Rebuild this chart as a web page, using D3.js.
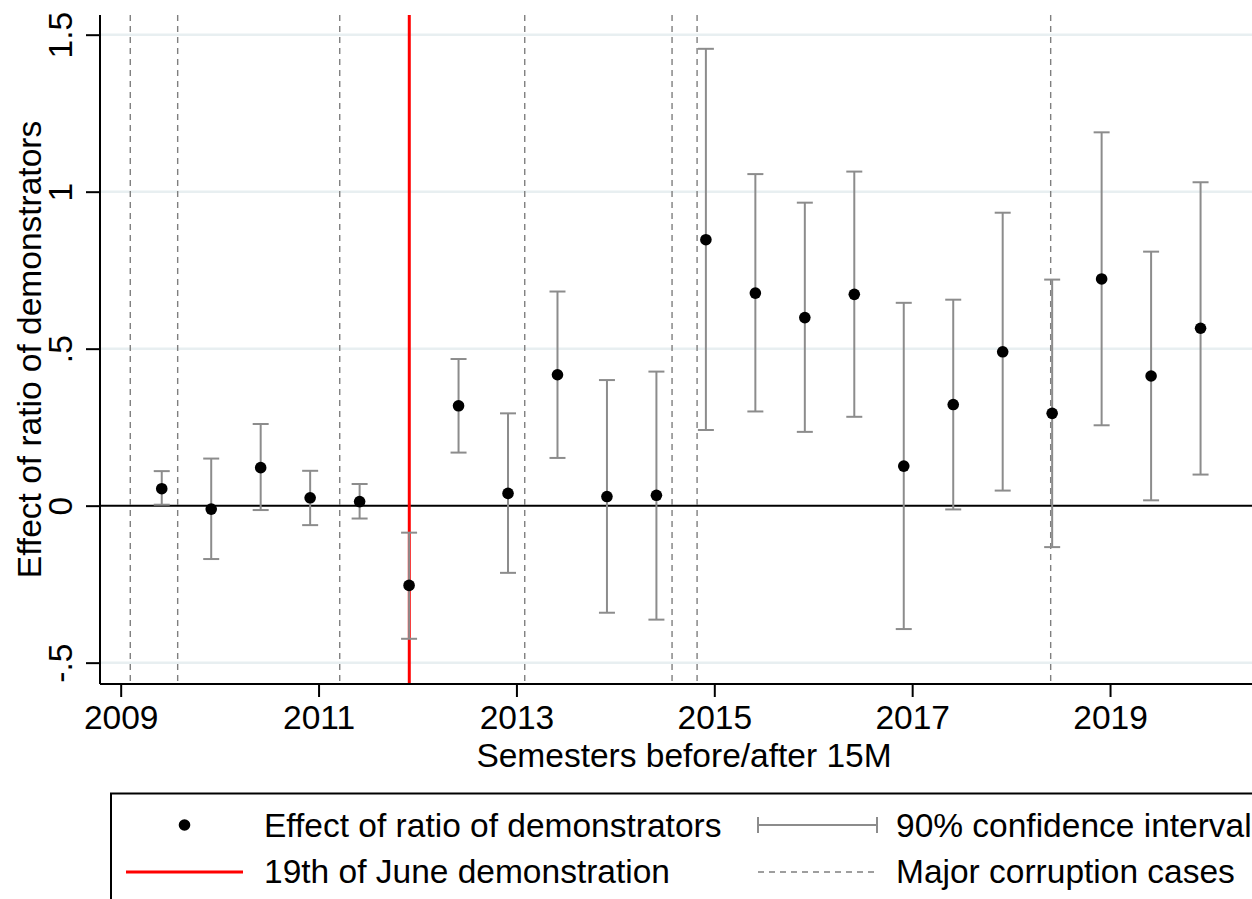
<!DOCTYPE html>
<html>
<head>
<meta charset="utf-8">
<script src="https://cdn.jsdelivr.net/npm/d3@7"></script>
<style>
  html, body { margin: 0; padding: 0; background: #fff; }
  svg { display: block; font-family: "Liberation Sans", Arial, Helvetica, sans-serif; }
</style>
</head>
<body>
<svg id="chart" width="1252" height="899"></svg>
<script>
// ---- Data ----
const semesters = [2009.415, 2009.915, 2010.415, 2010.915, 2011.415, 2011.915,
                   2012.415, 2012.915, 2013.415, 2013.915, 2014.415, 2014.915,
                   2015.415, 2015.915, 2016.415, 2016.915, 2017.415, 2017.915,
                   2018.415, 2018.915, 2019.415, 2019.915];
const effects   = [0.054, -0.011, 0.121, 0.025, 0.013, -0.254, 0.318, 0.039, 0.417, 0.029, 0.033, 0.847,
                   0.677, 0.599, 0.673, 0.126, 0.322, 0.490, 0.294, 0.722, 0.413, 0.565];
const ciLower   = [0.003, -0.170, -0.014, -0.062, -0.041, -0.424, 0.169, -0.214, 0.152, -0.341, -0.363, 0.241,
                   0.300, 0.235, 0.283, -0.393, -0.012, 0.048, -0.132, 0.256, 0.017, 0.099];
const ciUpper   = [0.110, 0.150, 0.260, 0.111, 0.069, -0.086, 0.467, 0.294, 0.682, 0.400, 0.427, 1.455,
                   1.056, 0.965, 1.064, 0.646, 0.656, 0.933, 0.720, 1.189, 0.809, 1.030];
const demonstrationDate = 2011.917;
const corruptionCases = [2009.097, 2009.576, 2011.214, 2013.084, 2014.573, 2014.826, 2018.400];
const xTickValues = [2009, 2011, 2013, 2015, 2017, 2019];
const yTickValues = [-0.5, 0, 0.5, 1, 1.5];
const yTickLabels = ["-.5", "0", ".5", "1", "1.5"];
const xTitle = "Semesters before/after 15M";
const yTitle = "Effect of ratio of demonstrators";
const legendLabels = ["Effect of ratio of demonstrators", "90% confidence interval",
                      "19th of June demonstration", "Major corruption cases"];

// ---- Layout ----
const svg = d3.select("#chart");
const plot = { left: 100, right: 1268, top: 15, bottom: 684 };
const fontSize = 33.5;

const x = d3.scaleLinear().domain([2008.7909, 2020.5966]).range([plot.left, plot.right]);
const y = d3.scaleLinear().domain([-0.568, 1.5627]).range([plot.bottom, plot.top]);

const data = semesters.map((s, i) => ({ s, e: effects[i], lo: ciLower[i], hi: ciUpper[i] }));

// gridlines
svg.append("g").selectAll("line").data(yTickValues.filter(v => v !== 0)).join("line")
  .attr("x1", plot.left).attr("x2", plot.right)
  .attr("y1", d => y(d)).attr("y2", d => y(d))
  .attr("stroke", "#e8eff1").attr("stroke-width", 2.5);

// zero line
svg.append("line")
  .attr("x1", plot.left).attr("x2", plot.right)
  .attr("y1", y(0)).attr("y2", y(0))
  .attr("stroke", "#000").attr("stroke-width", 2);

// corruption dashed lines
svg.append("g").selectAll("line").data(corruptionCases).join("line")
  .attr("x1", d => x(d)).attr("x2", d => x(d))
  .attr("y1", plot.top).attr("y2", plot.bottom)
  .attr("stroke", "#7f7f7f").attr("stroke-width", 1.4)
  .attr("stroke-dasharray", "6,5");

// demonstration red line
svg.append("line")
  .attr("x1", x(demonstrationDate)).attr("x2", x(demonstrationDate))
  .attr("y1", plot.top).attr("y2", plot.bottom)
  .attr("stroke", "#ff0000").attr("stroke-width", 3);

// confidence intervals
const ci = svg.append("g").attr("stroke", "#8c8c8c").attr("stroke-width", 2).attr("fill", "none");
ci.selectAll("line.v").data(data).join("line").attr("class", "v")
  .attr("x1", d => x(d.s)).attr("x2", d => x(d.s))
  .attr("y1", d => y(d.lo)).attr("y2", d => y(d.hi));
ci.selectAll("line.hi").data(data).join("line").attr("class", "hi")
  .attr("x1", d => x(d.s) - 8).attr("x2", d => x(d.s) + 8)
  .attr("y1", d => y(d.hi)).attr("y2", d => y(d.hi));
ci.selectAll("line.lo").data(data).join("line").attr("class", "lo")
  .attr("x1", d => x(d.s) - 8).attr("x2", d => x(d.s) + 8)
  .attr("y1", d => y(d.lo)).attr("y2", d => y(d.lo));

// points
svg.append("g").selectAll("circle").data(data).join("circle")
  .attr("cx", d => x(d.s)).attr("cy", d => y(d.e)).attr("r", 5.8).attr("fill", "#000");

// axes
const xAxis = d3.axisBottom(x).tickValues(xTickValues).tickFormat(d3.format("d"))
  .tickSize(13).tickPadding(8);
const gx = svg.append("g").attr("transform", `translate(0,${plot.bottom})`).call(xAxis);
gx.select(".domain").attr("stroke-width", 2).attr("d", `M${plot.left},0H${plot.right}`);
gx.selectAll(".tick line").attr("stroke-width", 2);
gx.selectAll(".tick text").attr("font-size", fontSize).attr("font-family", "Liberation Sans, Arial, sans-serif")
  .attr("fill", "#000").attr("dy", "0.71em");

const yAxis = d3.axisLeft(y).tickValues(yTickValues)
  .tickFormat((d, i) => yTickLabels[i]).tickSize(14).tickPadding(0);
const gy = svg.append("g").attr("transform", `translate(${plot.left},0)`).call(yAxis);
gy.select(".domain").attr("stroke-width", 2).attr("d", `M0,${plot.top}V${plot.bottom}`);
gy.selectAll(".tick line").attr("stroke-width", 2);
gy.selectAll(".tick text")
  .attr("font-size", fontSize).attr("font-family", "Liberation Sans, Arial, sans-serif").attr("fill", "#000")
  .attr("x", null).attr("dy", null)
  .attr("text-anchor", "middle")
  .attr("transform", "translate(-28.5,0) rotate(-90)");

// axis titles
svg.append("text")
  .attr("x", (plot.left + plot.right) / 2).attr("y", 767)
  .attr("text-anchor", "middle").attr("font-size", fontSize).text(xTitle);
svg.append("text")
  .attr("transform", `translate(40.5,${(plot.top + plot.bottom) / 2}) rotate(-90)`)
  .attr("text-anchor", "middle").attr("font-size", fontSize).text(yTitle);

// legend
const lg = svg.append("g");
lg.append("rect").attr("x", 111).attr("y", 793.5).attr("width", 1160).attr("height", 130)
  .attr("fill", "#fff").attr("stroke", "#000").attr("stroke-width", 2);
lg.append("circle").attr("cx", 184.5).attr("cy", 825).attr("r", 5.8).attr("fill", "#000");
lg.append("line").attr("x1", 126).attr("x2", 243).attr("y1", 872).attr("y2", 872)
  .attr("stroke", "#ff0000").attr("stroke-width", 3);
lg.append("line").attr("x1", 758).attr("x2", 877).attr("y1", 825).attr("y2", 825)
  .attr("stroke", "#8c8c8c").attr("stroke-width", 2);
[758, 877].forEach(xx => lg.append("line").attr("x1", xx).attr("x2", xx)
  .attr("y1", 817).attr("y2", 833).attr("stroke", "#8c8c8c").attr("stroke-width", 2));
lg.append("line").attr("x1", 758).attr("x2", 877).attr("y1", 872).attr("y2", 872)
  .attr("stroke", "#7f7f7f").attr("stroke-width", 1.4).attr("stroke-dasharray", "6,5");
const legendPos = [[264, 837], [896, 837], [264, 883], [896, 883]];
legendLabels.forEach((t, i) => lg.append("text")
  .attr("x", legendPos[i][0]).attr("y", legendPos[i][1])
  .attr("font-size", fontSize).attr("fill", "#000").text(t));
</script>
</body>
</html>
